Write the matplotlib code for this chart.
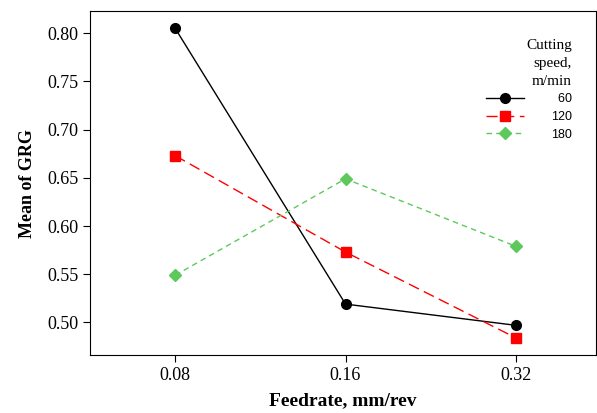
import matplotlib
matplotlib.use('Agg')
from matplotlib import pyplot as plt

feedrate = ['0.08', '0.16', '0.32']
speed_labels = ['\u200760', '120', '180']
grg_60 = [0.805, 0.519, 0.497]
grg_120 = [0.673, 0.573, 0.484]
grg_180 = [0.549, 0.649, 0.579]

plt.rcParams['font.family'] = 'Liberation Serif'

fig = plt.figure(figsize=(5.97, 4.13), dpi=100)
ax = fig.add_axes([0.151, 0.140, 0.847, 0.833])

x = range(len(feedrate))
ax.plot(x, grg_60, color='black', ls='-', lw=1, marker='o', ms=7, label=speed_labels[0])
ax.plot(x, grg_120, color='#ff0000', ls=(0, (8, 4)), lw=1, marker='s', ms=6.5, label=speed_labels[1])
ax.plot(x, grg_180, color='#5dc95d', ls=(0, (4, 3)), lw=1, marker='D', ms=6, label=speed_labels[2])

ax.set_xlim(-0.5, 2.47)
ax.set_ylim(0.466, 0.823)
ax.set_xticks(list(x))
ax.set_xticklabels(feedrate)
ax.set_yticks([0.50, 0.55, 0.60, 0.65, 0.70, 0.75, 0.80])
ax.set_yticklabels(['%.2f' % v for v in ax.get_yticks()])
ax.tick_params(labelsize=13, direction='out', length=5, top=False, right=False)
ax.set_xlabel('Feedrate, mm/rev', fontsize=14, fontweight='bold', labelpad=6)
ax.set_ylabel('Mean of GRG', fontsize=13, fontweight='bold', labelpad=8)

leg = ax.legend(title='Cutting\nspeed,\nm/min', loc='upper right', bbox_to_anchor=(0.953, 0.92),
                frameon=False, prop={'family': ['Liberation Sans', 'DejaVu Sans'], 'size': 9},
                title_fontproperties={'family': 'Liberation Serif', 'size': 11},
                alignment='right', handlelength=3.0, handletextpad=2.2, labelspacing=0.45,
                borderpad=0, borderaxespad=0)
leg.get_title().set_multialignment('right')
leg.get_title().set_linespacing(1.5)

plt.savefig('out.png', dpi=100)
